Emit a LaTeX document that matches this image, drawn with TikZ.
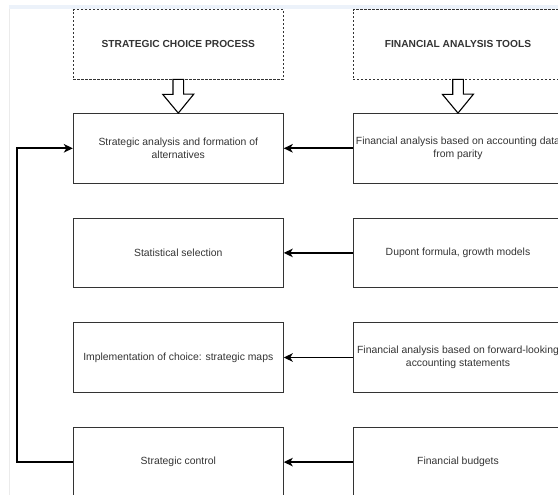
\documentclass[tikz,border=0pt]{standalone}
\usepackage{fontspec}
\setmainfont{Liberation Sans}
\usepackage{tikz}
\usetikzlibrary{arrows.meta}

\definecolor{bandblue}{RGB}{236,242,250}
\definecolor{inkgray}{RGB}{51,51,51}

\begin{document}
\begin{tikzpicture}[x=1pt,y=-1pt,
	stepbox/.style={draw=inkgray, line width=0.9pt, minimum width=210pt, minimum height=69.5pt, inner xsep=0pt, align=center, text=inkgray, font=\fontsize{10.4}{12.4}\selectfont},
	headbox/.style={stepbox, dash pattern=on 2.2pt off 1.8pt, line width=0.8pt, font=\fontsize{10.2}{12}\selectfont\bfseries},
	conn/.style={line width=1.6pt, -{Stealth[length=9pt,width=8.5pt,inset=2.5pt]}},
	hollow/.style={draw=black, line width=1.1pt, fill=white, line join=miter}]

	\useasboundingbox (0,0) rectangle (558,495);
	\clip (0,0) rectangle (558,495);

	% canvas edge
	\fill[bandblue] (9,5) rectangle (558,9.3);
	\draw[black!8, line width=0.6pt] (9.5,9.3) -- (9.5,495);

	% Headers
	\node[headbox] (pL) at (178.3,44.3) {STRATEGIC CHOICE PROCESS};
	\node[headbox] (pR) at (458,44.3) {FINANCIAL ANALYSIS TOOLS};

	% Strategic choice column
	\node[stepbox] (a1) at (178.3,148.3) {Strategic analysis and formation of\\alternatives};
	\node[stepbox] (a2) at (178.3,252.9) {Statistical selection};
	\node[stepbox] (a3) at (178.3,357.5) {Implementation of choice: strategic maps};
	\node[stepbox] (a4) at (178.3,462.1) {Strategic control};

	% Financial tools column
	\node[stepbox] (f1) at (458,148.3) {Financial analysis based on accounting data\\from parity};
	\node[stepbox] (f2) at (458,252.9) {Dupont formula, growth models};
	\node[stepbox] (f3) at (458,357.5) {Financial analysis based on forward-looking\\accounting statements};
	\node[stepbox] (f4) at (458,462.1) {Financial budgets};

	% Hollow arrows
	\draw[hollow] ([xshift=-5.3pt]pL.south) -- ++(0,15) -- ++(-10.2,0) -- (a1.north) -- ++(15.5,-19) -- ++(-10.2,0) -- ([xshift=5.3pt]pL.south) -- cycle;
	\draw[hollow] ([xshift=-5.3pt]pR.south) -- ++(0,15) -- ++(-10.2,0) -- (f1.north) -- ++(15.5,-19) -- ++(-10.2,0) -- ([xshift=5.3pt]pR.south) -- cycle;

	% Links
	\draw[conn] (f1) -- (a1);
	\draw[conn] (f2) -- (a2);
	\draw[conn] (f3) -- (a3);
	\draw[conn] (f4) -- (a4);

	% Feedback
	\coordinate (fb) at (16.7,462.1);
	\draw[conn] (a4.west) -- (fb) |- (a1.west);

\end{tikzpicture}
\end{document}
